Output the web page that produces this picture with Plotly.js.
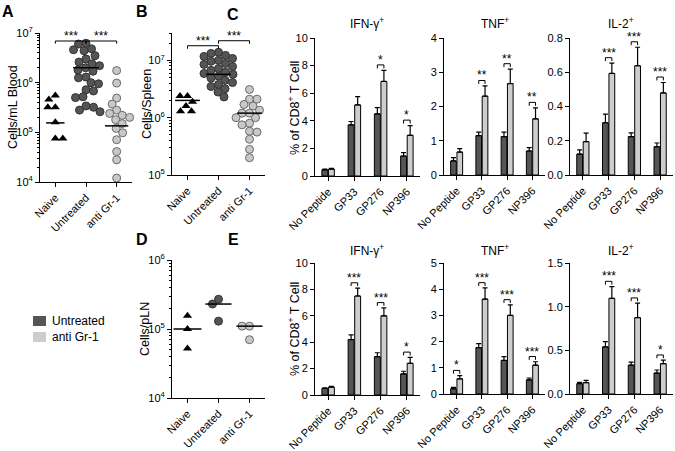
<!DOCTYPE html>
<html><head><meta charset="utf-8">
<script src="https://cdn.plot.ly/plotly-3.0.1.min.js"></script>
<style>body{margin:0;background:#fff}#chart{width:675px;height:451px}</style>
</head><body><div id="chart"></div>
<script>
// ---------------- DATA ----------------
const dotGroups = ["Naive", "Untreated", "anti Gr-1"];
const peptides = ["No Peptide", "GP33", "GP276", "NP396"];
const legendNames = ["Untreated", "anti Gr-1"];

// Panel A: cells / mL blood
const bloodNaive = [5.5e5, 4.6e5, 3.2e5, 3.2e5, 1.6e5, 7.5e4, 7.5e4];
const bloodUntreated = [6.2e6, 6.0e6, 4.8e6, 4.6e6, 4.4e6, 3.5e6, 3.0e6, 2.6e6, 2.4e6, 2.2e6, 2.0e6, 1.8e6, 1.7e6,
  1.3e6, 1.25e6, 1.0e6, 9.5e5, 7.2e5, 6.8e5, 5.2e5, 5.0e5, 3.4e5, 3.2e5, 2.8e5, 2.6e5];
const bloodAnti = [1.75e6, 9.8e5, 4.9e5, 3.7e5, 2.8e5, 2.4e5, 2.2e5, 2.0e5, 1.8e5, 1.5e5, 1.2e5, 9.8e4, 7.1e4, 4.1e4, 2.8e4, 1.2e4];
const bloodLines = [1.55e5, 2.0e6, 1.35e5];
const bloodSig = [[0, 1, "***", 6.9e6], [1, 2, "***", 6.9e6]];

// Panel B: cells / spleen
const spleenNaive = [2.4e6, 2.4e6, 1.9e6, 1.6e6, 1.3e6, 1.3e6];
const spleenUntreated = [1.38e7, 1.32e7, 1.22e7, 1.17e7, 1.08e7, 1.0e7, 9.6e6, 8.8e6, 8.5e6, 7.8e6, 7.2e6, 6.7e6,
  6.2e6, 5.9e6, 5.7e6, 5.3e6, 4.9e6, 4.5e6, 4.1e6, 3.8e6, 3.5e6, 3.2e6, 2.8e6, 2.3e6];
const spleenAnti = [3.1e6, 2.1e6, 2.1e6, 1.7e6, 1.6e6, 1.35e6, 1.2e6, 1.2e6, 1.0e6, 1.0e6, 8.0e5, 7.5e5, 5.8e5, 5.6e5, 4.2e5, 2.8e5, 2.0e5];
const spleenLines = [2.0e6, 5.7e6, 1.2e6];
const spleenSig = [[0, 1, "***", 1.8e7], [1, 2, "***", 2.2e7]];

// Panel D: cells / pLN
const lnNaive = [1.55e5, 1.0e5, 5.2e4];
const lnUntreated = [2.7e5, 2.3e5, 1.3e5];
const lnAnti = [1.1e5, 1.1e5, 7.0e4];
const lnLines = [1.0e5, 2.3e5, 1.1e5];

// Panel C: % of CD8+ T cells (blood)
const cIfnUntr = [0.45, 3.7, 4.5, 1.45],   cIfnUntrErr = [0.05, 0.25, 0.45, 0.25];
const cIfnAnti = [0.5, 5.15, 6.85, 2.95],  cIfnAntiErr = [0.05, 0.6, 0.8, 0.7];
const cIfnSig = ["", "", "*", "*"];
const cTnfUntr = [0.41, 1.15, 1.12, 0.7],  cTnfUntrErr = [0.1, 0.1, 0.13, 0.1];
const cTnfAnti = [0.67, 2.3, 2.67, 1.64],  cTnfAntiErr = [0.1, 0.3, 0.42, 0.32];
const cTnfSig = ["", "**", "**", "**"];
const cIl2Untr = [0.122, 0.305, 0.224, 0.165], cIl2UntrErr = [0.025, 0.05, 0.022, 0.022];
const cIl2Anti = [0.195, 0.593, 0.638, 0.479], cIl2AntiErr = [0.05, 0.06, 0.108, 0.061];
const cIl2Sig = ["", "***", "***", "***"];

// Panel E: % of CD8+ T cells (pLN)
const eIfnUntr = [0.5, 4.2, 2.9, 1.6],     eIfnUntrErr = [0.05, 0.35, 0.3, 0.2];
const eIfnAnti = [0.6, 7.5, 6.0, 2.4],     eIfnAntiErr = [0.05, 0.6, 0.6, 0.45];
const eIfnSig = ["", "***", "***", "*"];
const eTnfUntr = [0.2, 1.77, 1.28, 0.54],  eTnfUntrErr = [0.05, 0.15, 0.15, 0.07];
const eTnfAnti = [0.58, 3.62, 3.0, 1.1],   eTnfAntiErr = [0.12, 0.43, 0.4, 0.13];
const eTnfSig = ["*", "***", "***", "***"];
const eIl2Untr = [0.118, 0.54, 0.33, 0.24], eIl2UntrErr = [0.015, 0.06, 0.035, 0.035];
const eIl2Anti = [0.13, 1.095, 0.875, 0.347], eIl2AntiErr = [0.025, 0.135, 0.165, 0.04];
const eIl2Sig = ["", "***", "***", "*"];

// ---------------- STYLE / LAYOUT ----------------
const W = 675, H = 451;
const FONT = '"Liberation Sans", Arial, Helvetica, sans-serif';
const DARK = '#555555', LIGHT = '#cdcdcd';
const BARGAP = 0.5, BGG = 0.1;
const YTICK = 11, XTICK = 11;

const traces = [], annotations = [], shapes = [];
const layout = {
  width: W, height: H, margin: {l: 0, r: 0, t: 0, b: 0},
  paper_bgcolor: '#fff', plot_bgcolor: 'rgba(0,0,0,0)', showlegend: false,
  barmode: 'group', bargap: BARGAP, bargroupgap: BGG,
  font: {family: FONT, size: 12, color: '#000'},
  annotations, shapes
};
const sfx = n => n === 1 ? '' : String(n);

function addX(n, x0, x1, labels, range) {
  layout['xaxis' + sfx(n)] = {
    domain: [x0 / W, x1 / W], anchor: 'y' + sfx(n), range,
    tickmode: 'array', tickvals: labels.map((_, i) => i), ticktext: labels, tickangle: -45,
    showline: true, linecolor: '#000', linewidth: 1, ticks: 'outside', ticklen: 4, tickcolor: '#000',
    showgrid: false, zeroline: false, fixedrange: true, tickfont: {size: XTICK}
  };
}
function addY(n, top, bottom, opts) {
  layout['yaxis' + sfx(n)] = Object.assign({
    domain: [1 - bottom / H, 1 - top / H], anchor: 'x' + sfx(n),
    showline: true, linecolor: '#000', linewidth: 1, ticks: 'outside', ticklen: 4, tickcolor: '#000',
    showgrid: false, zeroline: false, fixedrange: true, tickfont: {size: YTICK}
  }, opts);
}
function text(t, px, py, opts) {
  annotations.push(Object.assign({text: t, x: px / W, y: 1 - py / H, xref: 'paper', yref: 'paper',
    showarrow: false, xanchor: 'center', yanchor: 'middle', font: {size: 12}}, opts));
}

// deterministic beeswarm: offsets (category units) so markers don't overlap
function swarm(vals, toPx, d, pxPerCat) {
  const order = vals.map((_, i) => i).sort((a, b) => vals[b] - vals[a]);
  const placed = [], off = new Array(vals.length).fill(0);
  order.forEach((i, rank) => {
    const y = toPx(vals[i]);
    for (let k = 0; k < 400; k++) {
      const s = rank % 2 ? -1 : 1;
      const cands = k === 0 ? [0] : [s * k * 0.5, -s * k * 0.5];
      const hit = cands.find(c => placed.every(p => Math.hypot(p.x - c, p.y - y) >= d));
      if (hit !== undefined) { placed.push({x: hit, y}); off[i] = hit / pxPerCat; break; }
    }
  });
  return off;
}

function minorVals(lo, hi) {
  const v = [];
  for (let d = lo; d < hi; d++) for (let k = 2; k <= 9; k++) { const x = k * Math.pow(10, d); if (Math.log10(x) <= hi) v.push(x); }
  return v;
}

function dotPanel(n, box, logRange, groups, lines, sig, lineHalf) {
  const [x0, x1, top, bottom] = box;
  addX(n, x0, x1, dotGroups, [-0.5, 2.5]);
  const decades = [];
  for (let d = Math.ceil(logRange[0]); d <= Math.floor(logRange[1]); d++) decades.push(d);
  addY(n, top, bottom, {
    type: 'log', range: logRange, tickmode: 'array',
    tickvals: decades.map(d => Math.pow(10, d)), ticktext: decades.map(d => '10<sup>' + d + '</sup>'),
    minor: {tickmode: 'array', tickvals: minorVals(Math.floor(logRange[0]), logRange[1]), ticks: 'outside', ticklen: 2, tickcolor: '#000', tickwidth: 1, showgrid: false}
  });
  const hPx = bottom - top, pxPerCat = (x1 - x0) / 3;
  const toPx = v => (Math.log10(v) - logRange[0]) / (logRange[1] - logRange[0]) * hPx;
  const xa = 'x' + sfx(n), ya = 'y' + sfx(n);
  groups.forEach((g, i) => {
    const off = swarm(g.vals, toPx, g.d, pxPerCat);
    traces.push({type: 'scatter', mode: 'markers', xaxis: xa, yaxis: ya, cliponaxis: false,
      x: off.map(o => i + o), y: g.vals,
      marker: {symbol: g.symbol, size: g.size, color: g.color, line: {color: g.lineColor, width: g.lineWidth}}});
  });
  const mx = [], my = [];
  lines.forEach((m, i) => { mx.push(i - lineHalf[i], i + lineHalf[i], null); my.push(m, m, null); });
  traces.push({type: 'scatter', mode: 'lines', xaxis: xa, yaxis: ya, x: mx, y: my, line: {color: '#000', width: 1.5}, cliponaxis: false});
  const bx = [], by = [];
  sig.forEach(([a, b, lab, yv]) => {
    bx.push(a, a, b, b, null); by.push(yv / 1.13, yv, yv, yv / 1.13, null);
    annotations.push({xref: xa, yref: ya, x: (a + b) / 2, y: Math.log10(yv), text: lab, showarrow: false,
      yanchor: 'bottom', yshift: -4, font: {size: 12}});
  });
  if (bx.length) traces.push({type: 'scatter', mode: 'lines', xaxis: xa, yaxis: ya, x: bx, y: by, line: {color: '#000', width: 1}, cliponaxis: false});
}

function barPanel(n, box, ymax, dtick, fmt, untr, untrErr, anti, antiErr, sig) {
  const [x0, x1, top, bottom] = box;
  addX(n, x0, x1, peptides, [-0.5, 3.5]);
  addY(n, top, bottom, {range: [0, ymax], dtick, tick0: 0, tickformat: fmt});
  const xa = 'x' + sfx(n), ya = 'y' + sfx(n);
  const xs = peptides.map((_, i) => i);
  [[untr, untrErr, DARK], [anti, antiErr, LIGHT]].forEach(([v, e, c]) => {
    traces.push({type: 'bar', xaxis: xa, yaxis: ya, x: xs, y: v,
      marker: {color: c, line: {color: '#000', width: 1}},
      error_y: {type: 'data', array: e, arrayminus: e.map(() => 0), symmetric: false, color: '#000', thickness: 1.2, width: 2.5}});
  });
  const o = (1 - BARGAP) / 4;
  const bx = [], by = [];
  sig.forEach((lab, i) => {
    if (!lab) return;
    const yb = Math.max(untr[i] + untrErr[i], anti[i] + antiErr[i]) + 0.04 * ymax;
    const leg = 0.025 * ymax;
    bx.push(i - o, i - o, i + o, i + o, null); by.push(yb - leg, yb, yb, yb - leg, null);
    annotations.push({xref: xa, yref: ya, x: i, y: yb, text: lab, showarrow: false, yanchor: 'bottom', yshift: -4, font: {size: 12}});
  });
  if (bx.length) traces.push({type: 'scatter', mode: 'lines', xaxis: xa, yaxis: ya, x: bx, y: by, line: {color: '#000', width: 1}, cliponaxis: false});
}

const tri = {symbol: 'triangle-up', size: 8, color: '#000', lineColor: '#000', lineWidth: 0, d: 7.5};
const darkC = {symbol: 'circle', size: 8, color: '#555', lineColor: '#333', lineWidth: 1, d: 7.5};
const lightC = {symbol: 'circle', size: 8, color: '#c8c8c8', lineColor: '#6a6a6a', lineWidth: 1, d: 7.5};

// Panel A
dotPanel(1, [40, 132, 33, 182], [4, 7],
  [Object.assign({vals: bloodNaive}, tri), Object.assign({vals: bloodUntreated}, darkC), Object.assign({vals: bloodAnti}, lightC)],
  bloodLines, bloodSig, [0.3, 0.42, 0.38]);
// Panel B
dotPanel(2, [172, 265, 33, 175], [5, Math.log10(3e7)],
  [Object.assign({vals: spleenNaive}, tri), Object.assign({vals: spleenUntreated}, darkC), Object.assign({vals: spleenAnti}, lightC)],
  spleenLines, spleenSig, [0.4, 0.4, 0.4]);
// Panel D
dotPanel(6, [172, 265, 260, 398], [4, 6],
  [Object.assign({vals: lnNaive}, tri), Object.assign({vals: lnUntreated}, darkC), Object.assign({vals: lnAnti}, lightC)],
  lnLines, [], [0.45, 0.42, 0.42]);

// Panel C
barPanel(3, [315, 420, 38, 176], 10, 2, 'd', cIfnUntr, cIfnUntrErr, cIfnAnti, cIfnAntiErr, cIfnSig);
barPanel(4, [444, 545, 38, 175], 4, 1, 'd', cTnfUntr, cTnfUntrErr, cTnfAnti, cTnfAntiErr, cTnfSig);
barPanel(5, [570, 673, 38, 175], 0.8, 0.2, '.1f', cIl2Untr, cIl2UntrErr, cIl2Anti, cIl2AntiErr, cIl2Sig);
// Panel E
barPanel(7, [315, 420, 263, 395], 10, 2, 'd', eIfnUntr, eIfnUntrErr, eIfnAnti, eIfnAntiErr, eIfnSig);
barPanel(8, [444, 545, 263, 394], 5, 1, 'd', eTnfUntr, eTnfUntrErr, eTnfAnti, eTnfAntiErr, eTnfSig);
barPanel(9, [570, 673, 263, 394], 1.5, 0.5, '.1f', eIl2Untr, eIl2UntrErr, eIl2Anti, eIl2AntiErr, eIl2Sig);

// subplot titles
[["IFN-γ<sup>+</sup>", 367], ["TNF<sup>+</sup>", 495], ["IL-2<sup>+</sup>", 621]].forEach(([t, x]) => {
  text(t, x, 23); text(t, x, 250);
});
// y-axis titles
text("Cells/mL Blood", 13, 107, {textangle: -90, font: {size: 12.5}});
text("Cells/Spleen", 147, 104, {textangle: -90, font: {size: 12.5}});
text("Cells/pLN", 145, 329, {textangle: -90, font: {size: 12.5}});
text("% of CD8<sup>+</sup> T Cell", 294, 108, {textangle: -90, font: {size: 12.5}});
text("% of CD8<sup>+</sup> T Cell", 294, 329, {textangle: -90, font: {size: 12.5}});
// panel letters
[["A", 8, 11], ["B", 142, 11], ["C", 233, 15], ["D", 142, 240], ["E", 233, 240]].forEach(([t, x, y]) =>
  text('<b>' + t + '</b>', x, y, {font: {size: 16}}));
// legend
[[DARK, 316, legendNames[0]], [LIGHT, 332, legendNames[1]]].forEach(([c, y, name]) => {
  shapes.push({type: 'rect', xref: 'paper', yref: 'paper', x0: 33 / W, x1: 46 / W, y0: 1 - (y + 10) / H, y1: 1 - y / H,
    fillcolor: c, line: {width: 0}});
  text(name, 50, y + 5, {xanchor: 'left', font: {size: 12}});
});

Plotly.newPlot('chart', traces, layout, {displayModeBar: false, staticPlot: true});
</script>
</body></html>
